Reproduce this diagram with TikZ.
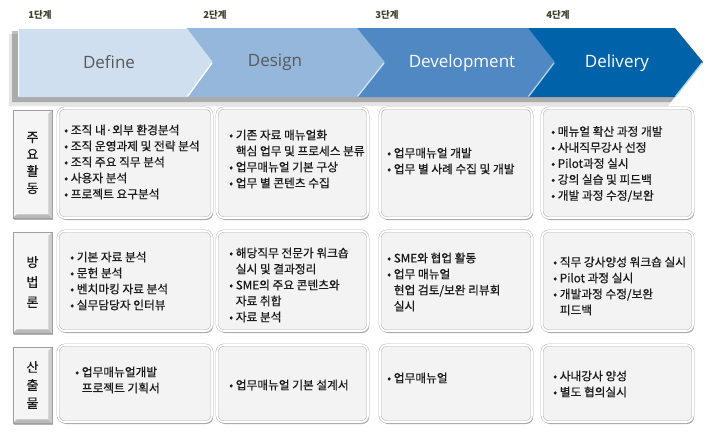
\documentclass[tikz,border=0pt]{standalone}
\usepackage{fontspec}
\setmainfont{Noto Sans CJK KR}
\newfontfamily\latinfont{Open Sans}
\newfontfamily\krtxt[FakeBold=0.6]{Noto Sans CJK KR}
\usetikzlibrary{shadows}
\definecolor{cDefine}{HTML}{D0DFEF}
\definecolor{cDesign}{HTML}{94B7DB}
\definecolor{cDevel}{HTML}{4F88C3}
\definecolor{cDeliv}{HTML}{0063A9}
\definecolor{stagecol}{HTML}{3E3E2C}
\definecolor{boxfill}{HTML}{F3F3F3}
\definecolor{txtcol}{HTML}{1A1A1A}
\newcommand\ind{\phantom{•\ }}
\tikzset{
  stagelbl/.style={font=\fontsize{9.5}{11}\selectfont\bfseries, text=stagecol, inner sep=0},
  phasedark/.style={font=\latinfont\fontsize{17}{19}\selectfont, text=black!65, inner sep=0},
  phaselight/.style={font=\latinfont\fontsize{17}{19}\selectfont, text=white, inner sep=0},
  cbox/.style={rectangle, rounded corners=7pt, fill=boxfill, draw=gray!55, double=white,
    double distance=1.8pt, line width=0.5pt, inner sep=0,
    drop shadow={shadow xshift=1.2pt, shadow yshift=-2pt, fill=black, opacity=0.35}},
  lbox/.style={rectangle, fill=gray!8, draw=gray!75, line width=0.5pt, inner sep=0,
    drop shadow={shadow xshift=1pt, shadow yshift=-2pt, fill=black, opacity=0.3}},
  lbl/.style={font=\krtxt\fontsize{13}{17}\selectfont, text=txtcol, align=center, inner sep=0},
  txt/.style={font=\krtxt\fontsize{11.7}{16}\selectfont, text=txtcol, align=left, inner sep=0, anchor=west},
}
\newcommand\bevel[1]{%
  \fill[white!92!gray] (#1.north west) -- (#1.north east) -- ([shift={(-4,4)}]#1.north east) -- ([shift={(4,4)}]#1.north west) -- ([shift={(4,-4)}]#1.south west) -- (#1.south west) -- cycle;
  \fill[gray!55] (#1.south west) -- (#1.south east) -- ([shift={(-4,-4)}]#1.south east) -- ([shift={(4,-4)}]#1.south west) -- cycle;
  \fill[gray!40] (#1.north east) -- (#1.south east) -- ([shift={(-4,-4)}]#1.south east) -- ([shift={(-4,4)}]#1.north east) -- cycle;
  \draw[gray!75, line width=0.5pt] (#1.north west) rectangle (#1.south east);
}
\begin{document}
\begin{tikzpicture}[x=1pt, y=-1pt]
\useasboundingbox (0,0) rectangle (710,432);
\fill[white] (0,0) rectangle (710,432);
% band shadow
\fill[black, opacity=0.10] (9,34) -- (668,34) -- (696,69) -- (668,106) -- (9,106) -- cycle;
\fill[black, opacity=0.25] (12,31) -- (671,31) -- (699,66) -- (671,102) -- (12,102) -- cycle;
% chevrons
\fill[cDefine] (18,28) -- (187,28) -- (213,62) -- (187,97) -- (18,97) -- cycle;
\fill[cDesign] (187,28) -- (357,28) -- (385,62) -- (357,97) -- (187,97) -- (213,62) -- cycle;
\fill[cDevel] (357,28) -- (528,28) -- (555,62) -- (528,97) -- (357,97) -- (385,62) -- cycle;
\fill[cDeliv] (528,28) -- (675,28) -- (703,62) -- (675,97) -- (528,97) -- (555,62) -- cycle;
% highlights
\draw[white, line width=1pt] (18.5,96) -- (18.5,28.5) -- (186,28.5);
\draw[white, line width=1.3pt] (212,63) -- (187.5,96.5);
\draw[white!60!cDesign, line width=1.3pt] (384,63) -- (357.5,96.5);
\draw[white!60!cDevel, line width=1.3pt] (554,63) -- (528.5,96.5);
\draw[cyan!40!white, line width=1.3pt] (702,63) -- (675.5,96.5);
% stage labels
\node[stagelbl] (s1) at (40,15) {1단계};
\node[stagelbl] (s2) at (215,15) {2단계};
\node[stagelbl] (s3) at (387,15) {3단계};
\node[stagelbl] (s4) at (558,15) {4단계};
% phase titles
\node[phasedark] (p1) at (109,62) {Define};
\node[phasedark] (p2) at (275,62) {Design};
\node[phaselight] (p3) at (462,63) {Development};
\node[phaselight] (p4) at (617,63) {Delivery};
% label boxes
\node[lbox, minimum width=39pt, minimum height=108pt] (L1) at (32.5,164) {};
\bevel{L1}
\node[lbl] (l1) at (32.5,163) {주\\요\\활\\동};
\node[lbox, minimum width=39pt, minimum height=101pt] (L2) at (32.5,282.5) {};
\bevel{L2}
\node[lbl, font=\krtxt\fontsize{13}{20}\selectfont] (l2) at (32.5,282) {방\\법\\론};
\node[lbox, minimum width=39pt, minimum height=76pt] (L3) at (32.5,385) {};
\bevel{L3}
\node[lbl, font=\krtxt\fontsize{13}{18}\selectfont] (l3) at (32.5,385) {산\\출\\물};
% content boxes row 1
\node[cbox, minimum width=154pt, minimum height=110pt] (b11) at (135,163) {};
\node[cbox, minimum width=151pt, minimum height=110pt] (b12) at (292.5,163) {};
\node[cbox, minimum width=152pt, minimum height=110pt] (b13) at (456,163) {};
\node[cbox, minimum width=151pt, minimum height=110pt] (b14) at (617.5,163) {};
% row 2
\node[cbox, minimum width=154pt, minimum height=100pt] (b21) at (135,281) {};
\node[cbox, minimum width=151pt, minimum height=100pt] (b22) at (292.5,281) {};
\node[cbox, minimum width=152pt, minimum height=100pt] (b23) at (456,281) {};
\node[cbox, minimum width=151pt, minimum height=100pt] (b24) at (617.5,281) {};
% row 3
\node[cbox, minimum width=154pt, minimum height=77pt] (b31) at (135,383.5) {};
\node[cbox, minimum width=151pt, minimum height=77pt] (b32) at (292.5,383.5) {};
\node[cbox, minimum width=152pt, minimum height=77pt] (b33) at (456,383.5) {};
\node[cbox, minimum width=151pt, minimum height=77pt] (b34) at (617.5,383.5) {};
% texts row 1
\node[txt] (t11) at (64,162) {• 조직 내·외부 환경분석\\• 조직 운영과제 및 전략 분석\\• 조직 주요 직무 분석\\• 사용자 분석\\• 프로젝트 요구분석};
\node[txt] (t12) at (229,159) {• 기존 자료 매뉴얼화\\\ind 핵심 업무 및 프로세스 분류\\• 업무매뉴얼 기본 구상\\• 업무 별 콘텐츠 수집};
\node[txt] (t13) at (387,161) {• 업무매뉴얼 개발\\• 업무 별 사례 수집 및 개발};
\node[txt] (t14) at (551,164) {• 매뉴얼 확산 과정 개발\\• 사내직무강사 선정\\• Pilot과정 실시\\• 강의 실습 및 피드백\\• 개발 과정 수정/보완};
% texts row 2
\node[txt] (t21) at (70,281) {• 기본 자료 분석\\• 문헌 분석\\• 벤치마킹 자료 분석\\• 실무담당자 인터뷰};
\node[txt] (t22) at (229,285) {• 해당직무 전문가 워크숍\\\ind 실시 및 결과정리\\• SME의 주요 콘텐츠와\\\ind 자료 취합\\• 자료 분석};
\node[txt] (t23) at (387,282) {• SME와 협업 활동\\• 업무 매뉴얼\\\ind 현업 검토/보완 리뷰회\\\ind 실시};
\node[txt] (t24) at (553,286) {• 직무 강사양성 워크숍 실시\\• Pilot 과정 실시\\• 개발과정 수정/보완\\\ind 피드백};
% texts row 3
\node[txt] (t31) at (75,380) {• 업무매뉴얼개발\\\ind 프로젝트 기획서};
\node[txt] (t32) at (229,385) {• 업무매뉴얼 기본 설계서};
\node[txt] (t33) at (387,378) {• 업무매뉴얼};
\node[txt] (t34) at (553,384) {• 사내강사 양성\\• 별도 협의실시};
\end{tikzpicture}
\end{document}
